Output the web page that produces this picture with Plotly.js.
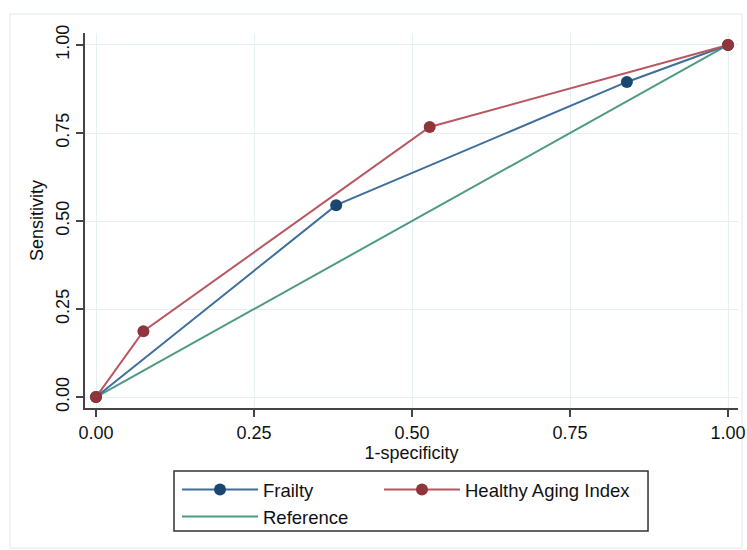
<!DOCTYPE html>
<html>
<head>
<meta charset="utf-8">
<script src="https://cdn.plot.ly/plotly-3.0.1.min.js"></script>
<style>html,body{margin:0;padding:0;background:#fff;}#chart{width:747px;height:550px;}</style>
</head>
<body>
<div id="chart"></div>
<script>
// Data
const frailtyX = [0, 0.38, 0.84, 1];
const frailtyY = [0, 0.545, 0.895, 1];
const haiX = [0, 0.075, 0.528, 1];
const haiY = [0, 0.187, 0.767, 1];
const refX = [0, 1];
const refY = [0, 1];
const tickVals = [0, 0.25, 0.5, 0.75, 1];
const tickText = ['0.00', '0.25', '0.50', '0.75', '1.00'];

const font = 'Liberation Sans, Arial, Helvetica, sans-serif';

const traces = [
  {x: refX, y: refY, name: 'Reference', type: 'scatter', mode: 'lines', legend: 'legend', legendrank: 2,
   line: {color: '#4f9a83', width: 2}},
  {x: frailtyX, y: frailtyY, name: 'Frailty', type: 'scatter', mode: 'lines+markers', legend: 'legend', legendrank: 1,
   line: {color: '#3f6e9c', width: 2}, marker: {color: '#1a476f', size: 12}},
  {x: haiX, y: haiY, name: 'Healthy Aging Index', type: 'scatter', mode: 'lines+markers', legend: 'legend2',
   line: {color: '#b9575f', width: 2}, marker: {color: '#90353b', size: 12}}
];

const legendCommon = {
  orientation: 'v', xanchor: 'left', yanchor: 'top', y: -0.168,
  borderwidth: 0, bgcolor: 'rgba(0,0,0,0)', itemwidth: 76, traceorder: 'normal',
  font: {size: 18.5, family: font, color: '#111'}
};

const layout = {
  width: 747, height: 550,
  margin: {l: 85, r: 9, t: 33, b: 142},
  paper_bgcolor: '#fff', plot_bgcolor: '#fff',
  font: {family: font, color: '#111', size: 18},
  showlegend: true,
  xaxis: {
    range: [-0.0174, 1.0158], tickvals: tickVals, ticktext: tickText,
    showgrid: true, gridcolor: '#e6eff1', gridwidth: 1, zeroline: false,
    showline: true, linecolor: '#444', linewidth: 2,
    ticks: 'outside', ticklen: 7, tickwidth: 2, tickcolor: '#444',
    tickfont: {size: 18, family: font, color: '#111'},
    title: {text: '1-specificity', font: {size: 18, family: font, color: '#111'}, standoff: 0}
  },
  yaxis: {
    range: [-0.031, 1.034], tickvals: tickVals, ticktext: tickText, tickangle: -90,
    showgrid: true, gridcolor: '#e6eff1', gridwidth: 1, zeroline: false,
    showline: true, linecolor: '#444', linewidth: 2,
    ticks: 'outside', ticklen: 7, tickwidth: 2, tickcolor: '#444',
    tickfont: {size: 18, family: font, color: '#111'},
    title: {text: 'Sensitivity', font: {size: 18, family: font, color: '#111'}, standoff: 4}
  },
  legend: Object.assign({}, legendCommon, {x: 0.1409}),
  legend2: Object.assign({}, legendCommon, {x: 0.4502}),
  shapes: [
    {type: 'rect', xref: 'paper', yref: 'paper', x0: -0.115, x1: 1.006, y0: -0.373, y1: 1.0507,
     line: {color: '#edf1f1', width: 1.5}, layer: 'below'},
    {type: 'rect', xref: 'paper', yref: 'paper', x0: 0.1363, x1: 0.8622, y0: -0.328, y1: -0.168,
     line: {color: '#333', width: 1.5}, fillcolor: 'rgba(0,0,0,0)', layer: 'above'}
  ]
};

Plotly.newPlot('chart', traces, layout, {displayModeBar: false, staticPlot: true});
</script>
</body>
</html>
